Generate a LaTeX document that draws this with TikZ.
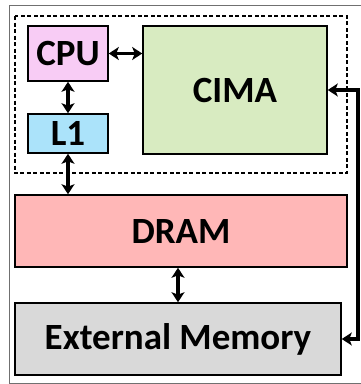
\documentclass[tikz,border=0pt]{standalone}
\usepackage{fontspec}
\setmainfont{Carlito}
\usetikzlibrary{arrows.meta,calc}
\definecolor{cpufill}{HTML}{F8CCF5}
\definecolor{lonefill}{HTML}{ABE3FA}
\definecolor{cimafill}{HTML}{D8EBC1}
\definecolor{dramfill}{HTML}{FFB7B7}
\definecolor{extfill}{HTML}{D9D9D9}
\definecolor{framegray}{HTML}{707070}
\tikzset{
  blk/.style={draw=black, line width=1.6pt, inner sep=0pt, font=\bfseries\fontsize{37}{37}\selectfont},
  arr/.style={line width=3.5pt, {Stealth[length=10pt,width=13pt,inset=2.5pt]}-{Stealth[length=10pt,width=13pt,inset=2.5pt]}},
  dashbox/.style={draw=black, line width=1.5pt, dash pattern=on 4pt off 2.5pt},
}
\begin{document}
\begin{tikzpicture}[x=1pt,y=-1pt]
\useasboundingbox (0,0) rectangle (361,384);
\draw[framegray, line width=1pt] (9,5) rectangle (364,383);
\draw[dashbox] (15,16) rectangle (347,173);
\node[blk, fill=cpufill, minimum width=80pt, minimum height=55pt] (cpu) at (68,53.5) {CPU};
\node[blk, fill=lonefill, minimum width=80pt, minimum height=39pt] (l1) at (68,133.5) {L1};
\node[blk, fill=cimafill, minimum width=184pt, minimum height=128pt] (cima) at (235,90) {CIMA};
\node[blk, fill=dramfill, minimum width=332pt, minimum height=72pt] (dram) at (181,231) {DRAM};
\node[blk, fill=extfill, minimum width=326pt, minimum height=72pt] (ext) at (178,339) {External Memory};
\draw[arr] (cpu.east) -- (cpu.east -| cima.west);
\draw[arr] (cpu.south) -- (l1.north);
\draw[arr] (l1.south) -- (l1.south |- dram.north);
\draw[arr] (dram.south -| ext.north) -- (ext.north);
\draw[arr] (cima.east) -- ++(30,0) |- (ext.east);
\end{tikzpicture}
\end{document}
